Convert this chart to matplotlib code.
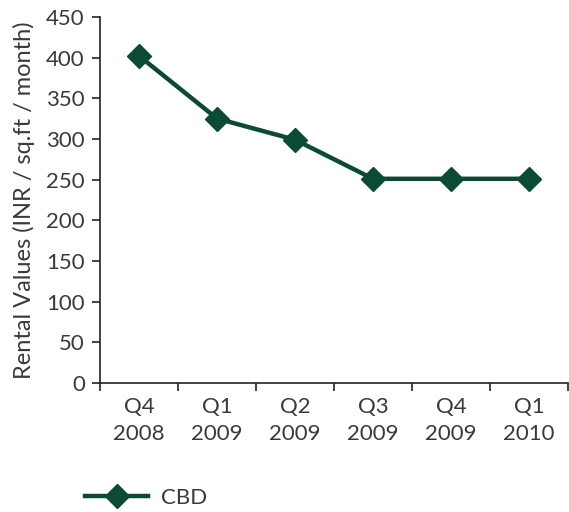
import matplotlib.pyplot as plt

quarters = ["Q4\n2008", "Q1\n2009", "Q2\n2009", "Q3\n2009", "Q4\n2009", "Q1\n2010"]
cbd_rent = [402, 325, 299, 251, 251, 251]
y_ticks = list(range(0, 451, 50))

green = "#0B4A33"
plt.rcParams["font.family"] = ["Lato", "DejaVu Sans"]

fig = plt.figure(figsize=(5.69, 5.12), dpi=100)
ax = fig.add_axes([0.176, 0.252, 0.822, 0.715])

x = range(len(quarters))
line, = ax.plot(x, cbd_rent, color=green, lw=3.2, marker="D", markersize=12,
                markeredgecolor=green, label="CBD", clip_on=False)

ax.set_xlim(-0.5, len(quarters) - 0.5)
ax.set_ylim(0, 450)
ax.set_yticks(y_ticks)
ax.set_xticks(x)
ax.set_xticklabels(quarters, fontsize=16, color="#3a3a3a", linespacing=1.45)
ax.set_xticks([i - 0.5 for i in range(len(quarters) + 1)], minor=True)
ax.tick_params(axis="x", which="major", length=0, pad=10)
ax.tick_params(axis="x", which="minor", length=6, width=1.2, color="#222222")
ax.tick_params(axis="y", length=6, width=1.2, labelsize=16, labelcolor="#3a3a3a",
               color="#222222", pad=5)

for s in ["top", "right"]:
    ax.spines[s].set_visible(False)
for s in ["left", "bottom"]:
    ax.spines[s].set_linewidth(1.2)
    ax.spines[s].set_color("#222222")

ax.set_ylabel("Rental Values (INR / sq.ft / month)", fontsize=17, color="#3a3a3a", labelpad=8)

fig.legend(handles=[line], loc="center left", bbox_to_anchor=(0.115, 0.028),
           frameon=False, fontsize=16, handlelength=2.8, handletextpad=0.6,
           labelcolor="#3a3a3a")

fig.savefig("out.png", dpi=100)
